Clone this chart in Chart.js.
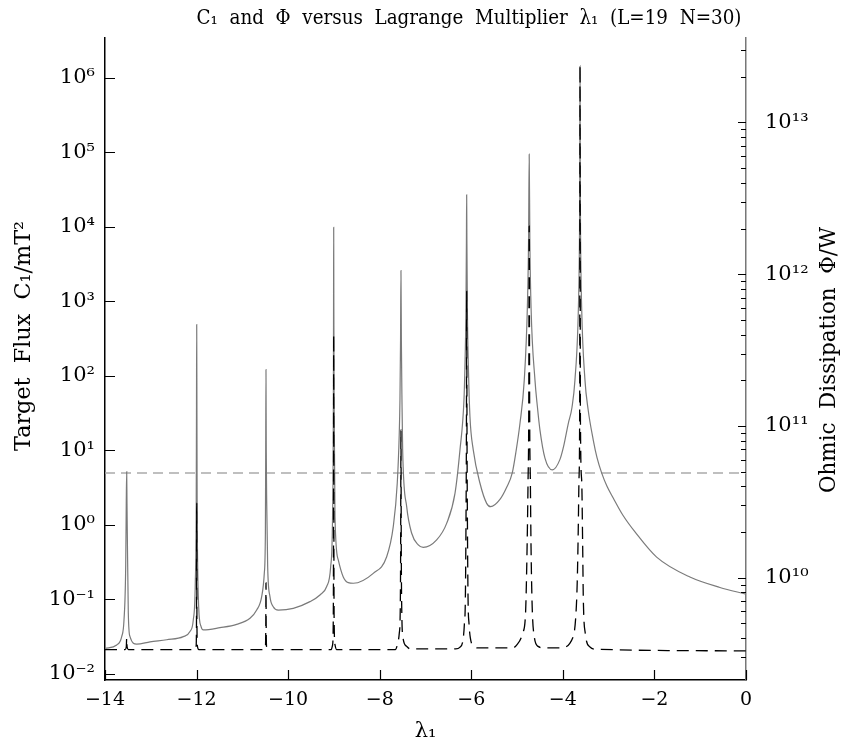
<!DOCTYPE html>
<html><head><meta charset="utf-8">
<script src="https://cdn.jsdelivr.net/npm/chart.js@4.4.1/dist/chart.umd.min.js"></script>
<style>html,body{margin:0;padding:0;background:#fff;} canvas{display:block;}</style>
</head><body>
<canvas id="c" width="844" height="749"></canvas>
<script>
// ---------------- data ----------------
const TITLE = 'C\u2081  and  \u03A6  versus  Lagrange  Multiplier  \u03BB\u2081  (L=19  N=30)';
const X_TITLE = '\u03BB\u2081';
const Y_TITLE = 'Target  Flux  C\u2081/mT\u00B2';
const Y2_TITLE = 'Ohmic  Dissipation  \u03A6/W';

const X_TICKS = [-14, -12, -10, -8, -6, -4, -2, 0];
const LEFT_TICK_EXP = [-2, -1, 0, 1, 2, 3, 4, 5, 6];
const RIGHT_TICK_EXP = [10, 11, 12, 13];
const RIGHT_MINOR_MANT = [2, 3, 4, 5, 6, 7, 8, 9];

const X_MIN = -14, X_MAX = 0;
const Y_MIN = 0.0083, Y_MAX = 3.44e6;
const Y2_MIN = 2.12e9, Y2_MAX = 3.6e13;

const TARGET_C1 = 5;

// Target flux C1 (left axis)
const C1_X = [-14.0, -13.744, -13.635, -13.585, -13.548, -13.535, -13.526, -13.52, -13.513, -13.491, -13.454, -13.308,
  -13.017, -12.653, -12.29, -12.144, -12.072, -12.028, -12.007, -12.002, -11.997, -11.992, -11.988, -11.984, -11.954,
  -11.903, -11.853, -11.489, -11.124, -10.833, -10.687, -10.578, -10.521, -10.497, -10.49, -10.484, -10.478, -10.469,
  -10.447, -10.397, -10.325, -10.215, -9.888, -9.523, -9.305, -9.158, -9.071, -9.03, -9.012, -9.008, -9.005, -9.002,
  -8.996, -8.977, -8.905, -8.796, -8.687, -8.577, -8.141, -7.848, -7.704, -7.617, -7.573, -7.558, -7.545, -7.536,
  -7.527, -7.514, -7.499, -7.411, -7.302, -7.158, -7.049, -6.756, -6.538, -6.356, -6.247, -6.16, -6.142, -6.116, -6.106,
  -6.101, -6.096, -6.086, -6.06, -6.029, -5.957, -5.81, -5.664, -5.577, -5.374, -5.227, -5.105, -5.02, -4.937, -4.843,
  -4.775, -4.749, -4.735, -4.721, -4.695, -4.609, -4.555, -4.5, -4.391, -4.231, -4.063, -3.975, -3.882, -3.8, -3.736,
  -3.66, -3.6375, -3.6294, -3.625, -3.6206, -3.6125, -3.59, -3.517, -3.45, -3.336, -3.254, -3.153, -3.036, -2.9,
  -2.688, -2.42, -1.952, -1.225, -0.57, 0.0];
const C1_Y = [0.0221, 0.0245, 0.0317, 0.053, 0.276, 2.16, 5.2, 2.0, 0.78, 0.066, 0.0317, 0.0251,
  0.027, 0.0288, 0.0317, 0.0371, 0.053, 0.166, 2.2, 30, 490, 30, 2.2, 0.78, 0.08,
  0.0434, 0.039, 0.0418, 0.0464, 0.0559, 0.072, 0.109, 0.224, 0.78, 10, 122, 10, 2.2,
  0.276, 0.109, 0.08, 0.072, 0.076, 0.0935, 0.115, 0.149, 0.276, 1.29, 47.5, 1000, 9900, 1000,
  47.5, 1.29, 0.339, 0.2, 0.168, 0.165, 0.224, 0.375, 0.95, 3.63, 17, 47.5, 300, 2600,
  300, 47.5, 10.2, 1.76, 0.774, 0.54, 0.5, 0.63, 1.05, 2.66, 10.2, 47.5, 110, 850, 6700,
  27000, 6700, 850, 110, 28.3, 10.2, 3.63, 1.95, 1.76, 2.2, 3.2, 5.0, 10, 23, 88,
  850, 6700, 95000, 6700, 850, 88, 38, 18.8, 7.9, 5.5, 7.6, 12, 23, 38, 88,
  850, 6700, 53000, 1.45e6, 53000, 6700, 850, 88, 36, 13.8, 8, 5.0, 3.3, 2.3,
  1.35, 0.8, 0.37, 0.2, 0.145, 0.118];

// Ohmic dissipation Phi (right axis)
const PHI_X = [-14.0, -13.56, -13.535, -13.526, -13.517, -13.49,
  -12.03, -12.01, -12.002, -11.997, -11.992, -11.982, -11.95,
  -10.52, -10.496, -10.489, -10.484, -10.479, -10.47, -10.44,
  -9.06, -9.03, -9.015, -9.009, -9.005, -9.001, -8.995, -8.975, -8.94,
  -7.66, -7.617, -7.573, -7.552, -7.543, -7.536, -7.529, -7.518, -7.49, -7.411, -7.33,
  -6.34, -6.25, -6.175, -6.15, -6.13, -6.117, -6.106, -6.1, -6.094, -6.083, -6.07, -6.05, -6.02, -5.93, -5.85,
  -5.1, -5.01, -4.88, -4.815, -4.795, -4.775, -4.76, -4.745, -4.735, -4.725, -4.71, -4.695, -4.67, -4.625, -4.54, -4.4,
  -4.06, -3.773, -3.714, -3.685, -3.664, -3.648, -3.633, -3.625, -3.617, -3.589, -3.567, -3.554, -3.51, -3.408, -3.262, 0.0];
const PHI_Y = [3.36e9, 3.36e9, 3.5e9, 4.0e9, 3.5e9, 3.36e9,
  3.36e9, 3.55e9, 5e9, 3.1e10, 5e9, 3.55e9, 3.36e9,
  3.36e9, 3.5e9, 4.5e9, 9.25e9, 4.5e9, 3.5e9, 3.36e9,
  3.36e9, 3.6e9, 5e9, 2e10, 4.0e11, 2e10, 5e9, 3.6e9, 3.36e9,
  3.36e9, 3.6e9, 4.3e9, 6e9, 1.5e10, 9.4e10, 1.5e10, 6e9, 4.0e9, 3.53e9, 3.4e9,
  3.4e9, 3.48e9, 4.0e9, 5e9, 7.1e9, 2e10, 1e11, 7.7e11, 1e11, 2e10, 7.1e9, 5e9, 4.0e9, 3.5e9, 3.45e9,
  3.45e9, 3.6e9, 4.3e9, 5.8e9, 9.6e9, 2.05e10, 4.4e10, 1.2e11, 2.07e12, 1.2e11, 4.4e10, 1.6e10, 6.45e9, 4.1e9, 3.53e9, 3.45e9,
  3.45e9, 4.1e9, 5.8e9, 9.6e9, 2.05e10, 4.4e10, 1.2e11, 2.37e13, 1.2e11, 4.4e10, 1.6e10, 7.5e9, 4.3e9, 3.5e9, 3.38e9, 3.3e9];

// ---------------- helpers ----------------
const FONT = '"DejaVu Serif", "Liberation Serif", serif';
const SUP = {'-':'\u207B','0':'\u2070','1':'\u00B9','2':'\u00B2','3':'\u00B3','4':'\u2074','5':'\u2075','6':'\u2076','7':'\u2077','8':'\u2078','9':'\u2079'};
const supStr = s => String(s).split('').map(c => SUP[c] || c).join('');
const powLabel = e => '10' + supStr(e);
const fmtX = v => (v < 0 ? '\u2212' + Math.abs(v) : String(v));
const zip = (xs, ys) => xs.map((x, i) => ({x, y: ys[i]}));

const LEFT_TICKS = LEFT_TICK_EXP.map(e => ({value: Math.pow(10, e), major: true, label: powLabel(e)}));
const RIGHT_TICKS = [];
for (let e = RIGHT_TICK_EXP[0] - 1; e <= RIGHT_TICK_EXP[RIGHT_TICK_EXP.length - 1]; e++) {
  if (RIGHT_TICK_EXP.includes(e)) RIGHT_TICKS.push({value: Math.pow(10, e), major: true, label: powLabel(e)});
  RIGHT_MINOR_MANT.forEach(m => RIGHT_TICKS.push({value: m * Math.pow(10, e), major: false, label: ''}));
}

// inward tick marks drawn from the library scales
const inwardTicks = {
  id: 'inwardTicks',
  afterDraw(chart) {
    const {ctx, chartArea: a, scales} = chart;
    ctx.save();
    ctx.lineWidth = 1.2;
    ctx.strokeStyle = '#000';
    ctx.beginPath();
    scales.x.ticks.forEach(t => {
      const p = Math.round(scales.x.getPixelForValue(t.value)) + 0.5;
      ctx.moveTo(p, a.bottom); ctx.lineTo(p, a.bottom - 10);
    });
    scales.y.ticks.forEach(t => {
      const p = Math.round(scales.y.getPixelForValue(t.value)) + 0.5;
      ctx.moveTo(a.left, p); ctx.lineTo(a.left + 10, p);
    });
    scales.y2.ticks.forEach(t => {
      if (t.value < Y2_MIN || t.value > Y2_MAX) return;
      const p = Math.round(scales.y2.getPixelForValue(t.value)) + 0.5;
      ctx.moveTo(a.right, p); ctx.lineTo(a.right - (t.major ? 8 : 5), p);
    });
    ctx.stroke();
    ctx.restore();
  }
};

// fit text to a target span by a slight horizontal scaling
function fitText(ctx, text, cx, cy, span, rot) {
  ctx.save();
  ctx.translate(cx, cy);
  if (rot) ctx.rotate(rot);
  const w = ctx.measureText(text).width;
  ctx.scale(span / w, 1);
  ctx.fillText(text, 0, 0);
  ctx.restore();
}

// titles
const texts = {
  id: 'texts',
  afterDraw(chart) {
    const {ctx} = chart;
    ctx.save();
    ctx.fillStyle = '#000';
    ctx.textAlign = 'center';
    ctx.textBaseline = 'middle';
    ctx.font = '20px ' + FONT;
    fitText(ctx, TITLE, 469, 19, 545, 0);
    ctx.font = '22px ' + FONT;
    fitText(ctx, Y_TITLE, 24, 336, 230, -Math.PI / 2);
    fitText(ctx, Y2_TITLE, 829, 360, 266, -Math.PI / 2);
    ctx.restore();
  }
};

new Chart(document.getElementById('c'), {
  type: 'line',
  data: {
    datasets: [
      {label: 'Phi', data: zip(PHI_X, PHI_Y), yAxisID: 'y2', order: 0,
       borderColor: '#000', borderWidth: 1.3, borderDash: [12, 7], pointRadius: 0,
       cubicInterpolationMode: 'monotone', fill: false},
      {label: 'C1', data: zip(C1_X, C1_Y), yAxisID: 'y', order: 1,
       borderColor: '#7a7a7a', borderWidth: 1.2, pointRadius: 0,
       cubicInterpolationMode: 'monotone', fill: false},
      {label: 'target', data: [{x: X_MIN, y: TARGET_C1}, {x: X_MAX, y: TARGET_C1}], yAxisID: 'y', order: 2,
       borderColor: '#aaa', borderWidth: 1.5, borderDash: [10, 6], pointRadius: 0, fill: false}
    ]
  },
  options: {
    responsive: false, animation: false, devicePixelRatio: 1,
    layout: {padding: {top: 38, left: 0, right: 0, bottom: 0}},
    plugins: {legend: {display: false}, tooltip: {enabled: false}, title: {display: false}},
    scales: {
      x: {
        type: 'linear', position: 'bottom', min: X_MIN, max: X_MAX,
        afterBuildTicks: s => { s.ticks = X_TICKS.map(v => ({value: v})); },
        afterFit: s => { s.height = 69; },
        grid: {display: false, drawTicks: false},
        border: {display: true, color: '#000', width: 1.5},
        ticks: {autoSkip: false, maxRotation: 0, padding: 9, color: '#000', font: {family: FONT, size: 19}, callback: v => fmtX(v)},
        title: {display: true, text: X_TITLE, color: '#000', font: {family: FONT, size: 21}, padding: {top: 2, bottom: 5}}
      },
      y: {
        type: 'logarithmic', position: 'left', min: Y_MIN, max: Y_MAX,
        afterBuildTicks: s => { s.ticks = LEFT_TICKS.map(t => ({value: t.value, major: t.major, label: t.label})); },
        afterFit: s => { s.width = 105; },
        grid: {display: false, drawTicks: false},
        border: {display: true, color: '#000', width: 1.5},
        ticks: {autoSkip: false, padding: 10, color: '#000', font: {family: FONT, size: 21},
          callback: (v, i) => LEFT_TICKS[i] ? LEFT_TICKS[i].label : ''}
      },
      y2: {
        type: 'logarithmic', position: 'right', min: Y2_MIN, max: Y2_MAX,
        afterBuildTicks: s => { s.ticks = RIGHT_TICKS.filter(t => t.value >= Y2_MIN && t.value <= Y2_MAX).map(t => ({value: t.value, major: t.major, label: t.label})); },
        afterFit: s => { s.width = 98; },
        grid: {display: false, drawTicks: false},
        border: {display: true, color: '#777', width: 1.5},
        ticks: {autoSkip: false, padding: 19, color: '#000', font: {family: FONT, size: 21},
          callback: function (v) { const t = RIGHT_TICKS.find(r => Math.abs(r.value - v) / v < 1e-6); return t && t.major ? t.label : ''; }}
      }
    }
  },
  plugins: [inwardTicks, texts]
});
</script>
</body></html>
